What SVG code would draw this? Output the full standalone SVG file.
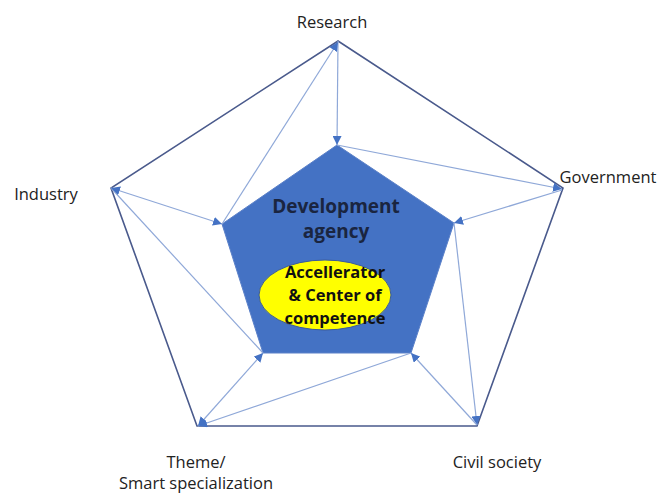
<svg xmlns="http://www.w3.org/2000/svg" width="660" height="493" viewBox="0 0 660 493">
<defs>
<style>
.lbl{font-family:"Open Sans","Liberation Sans",sans-serif;font-size:16.5px;fill:#222;text-anchor:middle}
.big{font-family:"Open Sans","Liberation Sans",sans-serif;font-size:19px;font-weight:bold;fill:#1a2540;text-anchor:middle}
.mid{font-family:"Open Sans","Liberation Sans",sans-serif;font-size:16.5px;font-weight:bold;fill:#111;text-anchor:middle}
.c{stroke:#8fa8d8;stroke-width:1.2;fill:none}
</style>
<marker id="a" viewBox="0 0 10 10" refX="10" refY="5" markerWidth="9" markerHeight="9" markerUnits="userSpaceOnUse" orient="auto-start-reverse">
<path d="M0,0 L10,5 L0,10 z" fill="#4472c4"/>
</marker>
</defs>
<rect width="660" height="493" fill="#fff"/>
<g id="outer">
<polygon points="338,41 563,188 477,426 197,426 111,188" fill="none" stroke="#4a5a8c" stroke-width="1.6"/>
</g>
<g id="agency">
<polygon points="337,145 454,223 411,353 263,353 222,224" fill="#4472c4" stroke="#5b80c8" stroke-width="1"/>
<text class="big" x="336" y="213">Development</text>
<text class="big" x="336" y="238">agency</text>
</g>
<g id="accelerator">
<ellipse cx="325" cy="295" rx="66" ry="35" fill="#ffff00" stroke="#3a5a9a" stroke-width="1"/>
<text class="mid" x="335" y="278">Accellerator</text>
<text class="mid" x="335" y="301">&amp; Center of</text>
<text class="mid" x="335" y="324">competence</text>
</g>
<g id="connectors">
<line class="c" x1="338" y1="41" x2="337" y2="145" marker-end="url(#a)"/>
<line class="c" x1="222" y1="224" x2="338" y2="42" marker-end="url(#a)"/>
<line class="c" x1="337" y1="145" x2="562" y2="189" marker-end="url(#a)"/>
<line class="c" x1="562" y1="190" x2="454" y2="223" marker-end="url(#a)"/>
<line class="c" x1="454" y1="223" x2="477" y2="425" marker-end="url(#a)"/>
<line class="c" x1="477" y1="425" x2="411" y2="353" marker-end="url(#a)"/>
<line class="c" x1="411" y1="353" x2="198" y2="426" marker-end="url(#a)"/>
<line class="c" x1="198" y1="426" x2="263" y2="353" marker-start="url(#a)" marker-end="url(#a)"/>
<line class="c" x1="111" y1="188" x2="263" y2="353"/>
<line class="c" x1="111" y1="188" x2="222" y2="224" marker-start="url(#a)" marker-end="url(#a)"/>
</g>
<g id="research"><text class="lbl" x="332" y="28">Research</text></g>
<g id="government"><text class="lbl" x="608" y="183">Government</text></g>
<g id="industry"><text class="lbl" x="46" y="200">Industry</text></g>
<g id="theme"><text class="lbl" x="196" y="468">Theme/</text><text class="lbl" x="196" y="489">Smart specialization</text></g>
<g id="civil"><text class="lbl" x="497" y="468">Civil society</text></g>
</svg>
